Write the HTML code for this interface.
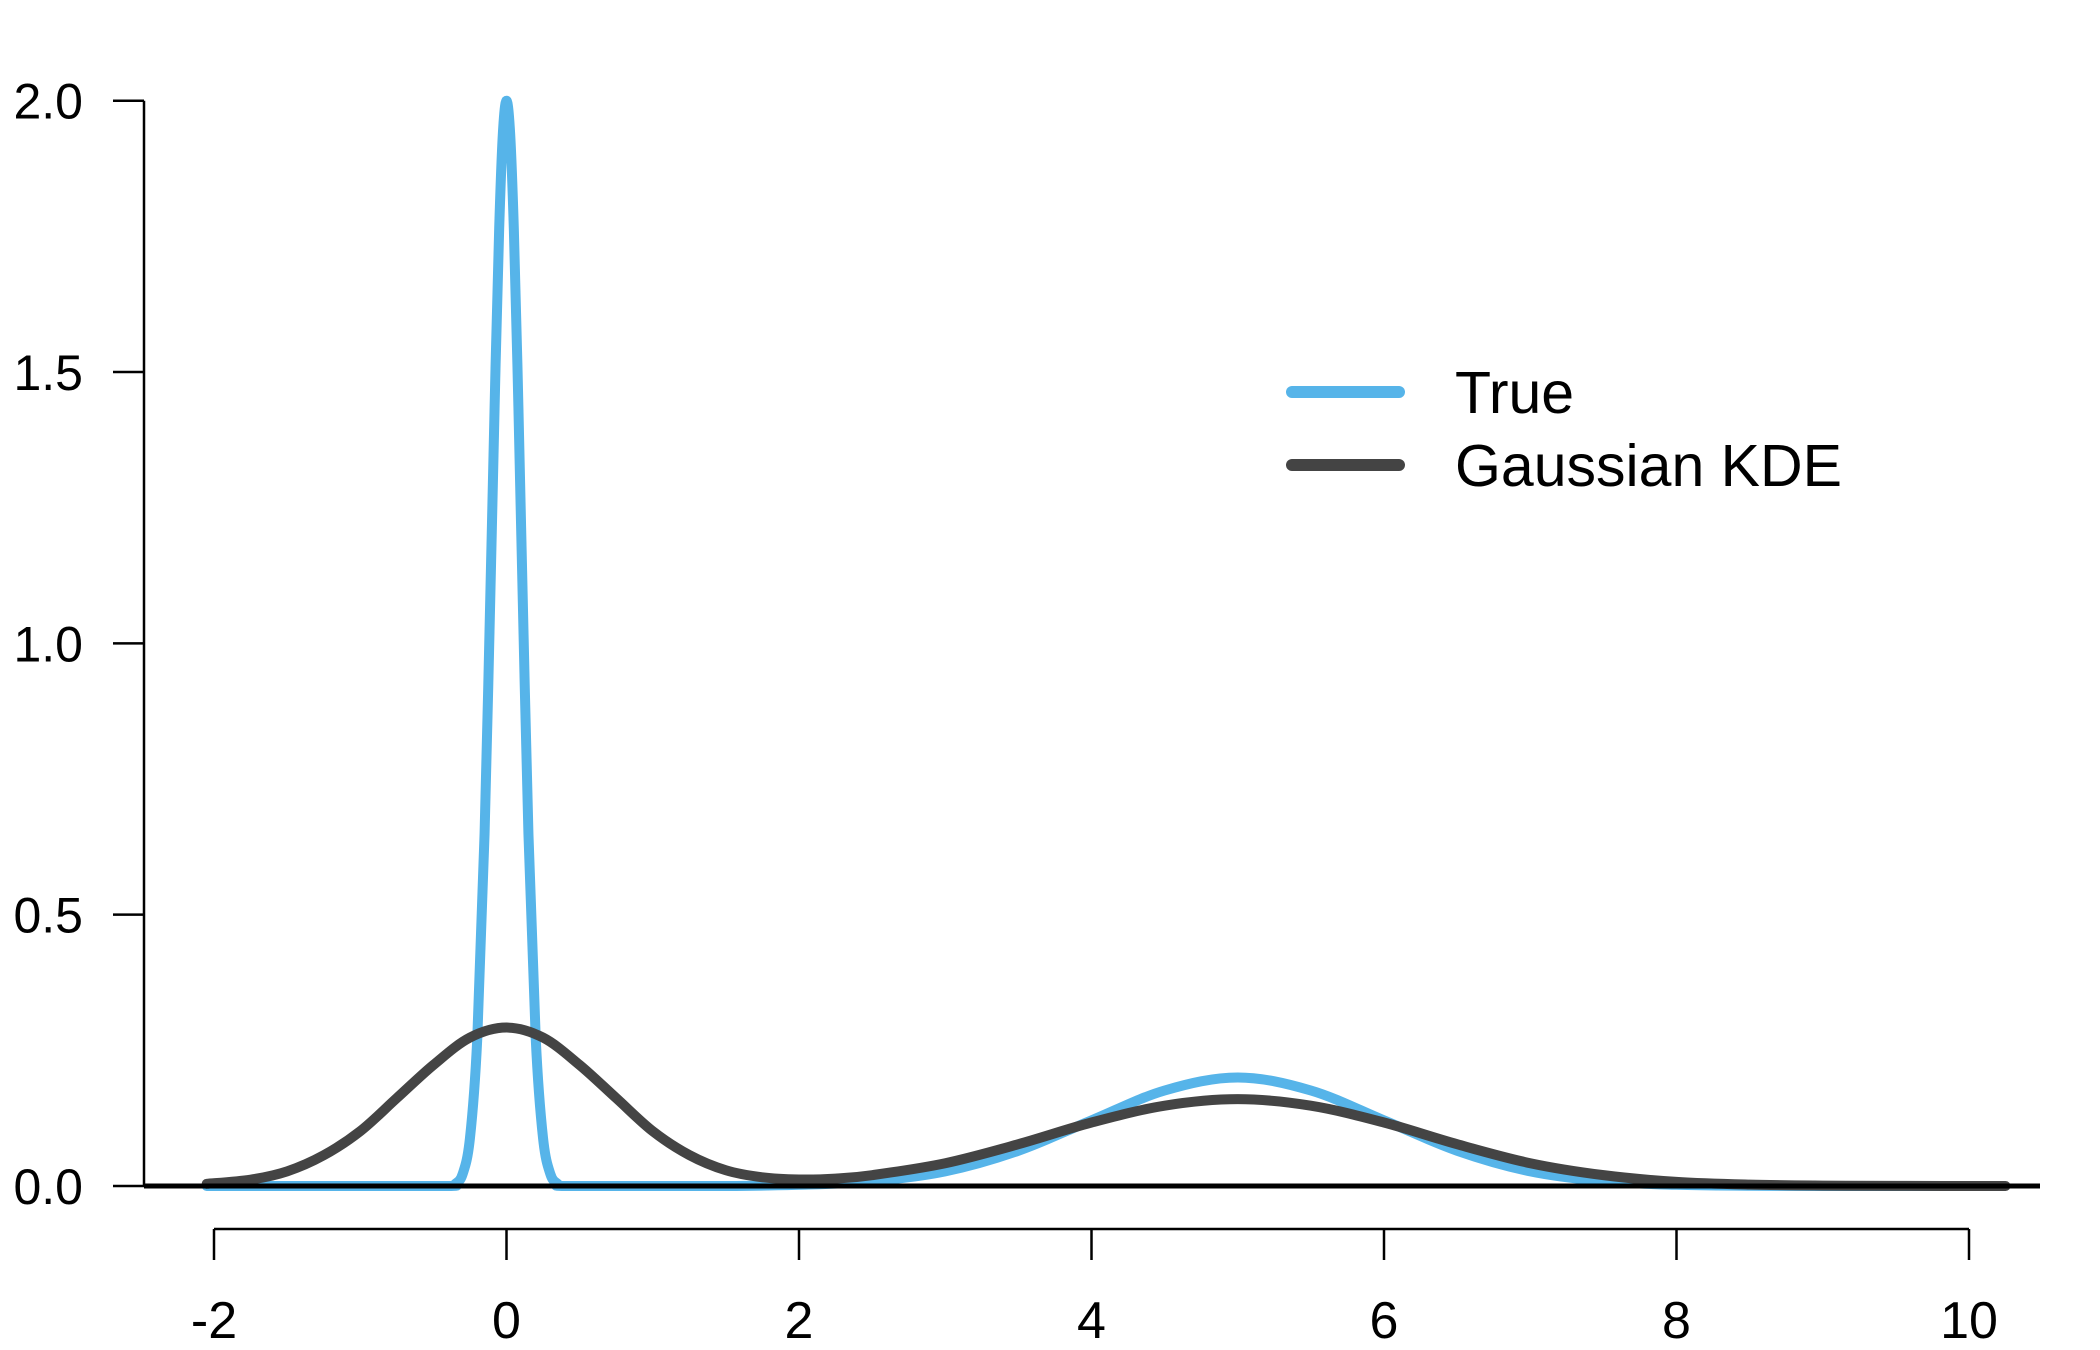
<!DOCTYPE html>
<html><head><meta charset="utf-8"><style>
html,body{margin:0;padding:0;background:#fff;}
svg{display:block;font-family:"Liberation Sans",Arial,sans-serif;}
</style></head><body>
<svg id="chart" width="2100" height="1350" viewBox="0 0 2100 1350">
<g id="axes"></g><g id="series"></g><g id="legend"></g>
</svg>
<script>
const xTicks=[-2,0,2,4,6,8,10];
const yTicks=[0,0.5,1,1.5,2];
const yTickLabels=["0.0","0.5","1.0","1.5","2.0"];
const trueX=[-2.05,-1,-0.4,-0.35,-0.3,-0.25,-0.2,-0.15,-0.1,-0.075,-0.05,-0.025,0,0.025,0.05,0.075,0.1,0.15,0.2,0.25,0.3,0.35,0.4,1,1.5,2,2.5,3,3.5,4,4.5,5,5.5,6,6.5,7,7.5,8,8.5,9,10.2];
const trueY=[0,0,0,0.004,0.022,0.088,0.271,0.649,1.213,1.509,1.765,1.939,2.0,1.939,1.765,1.509,1.213,0.649,0.271,0.088,0.022,0.004,0,0,0,0.0022,0.0088,0.027,0.065,0.121,0.176,0.2,0.176,0.121,0.065,0.027,0.0088,0.0022,0.0004,0,0];
const kdeX=[-2.05,-1.75,-1.5,-1.25,-1,-0.75,-0.5,-0.25,0,0.25,0.5,0.75,1,1.25,1.5,1.75,2,2.25,2.5,3,3.5,4,4.5,5,5.5,6,6.5,7,7.5,8,8.5,9,9.5,10.25];
const kdeY=[0.004,0.0117,0.027,0.0566,0.101,0.162,0.223,0.2735,0.292,0.2735,0.223,0.162,0.101,0.057,0.029,0.016,0.012,0.0136,0.020,0.042,0.077,0.117,0.148,0.16,0.148,0.117,0.077,0.042,0.020,0.0076,0.0025,0.0007,0.0002,0];
const NS="http://www.w3.org/2000/svg";
const X=v=>214+(v+2)*(1969-214)/12;
const Y=v=>1186-v*(1186-100.7)/2;
function mk(tag,attrs,parent){const e=document.createElementNS(NS,tag);for(const k in attrs)e.setAttribute(k,attrs[k]);parent.appendChild(e);return e;}
const axes=document.getElementById('axes');
let yl=mk('line',{x1:144,y1:Y(0),x2:144,y2:Y(2),stroke:'#000','stroke-width':2.5},axes);


yTicks.forEach((t,i)=>{
 let l=mk('line',{x1:113,y1:Y(t),x2:144,y2:Y(t),stroke:'#000','stroke-width':2.5},axes);
 
 
 let tx=mk('text',{x:83,y:Y(t)+18,'text-anchor':'end','font-size':50},axes);
 tx.textContent=yTickLabels[i];
 
 
});
let xl=mk('line',{x1:X(-2),y1:1229,x2:X(10),y2:1229,stroke:'#000','stroke-width':2.5},axes);


xTicks.forEach(t=>{
 let l=mk('line',{x1:X(t),y1:1229,x2:X(t),y2:1260,stroke:'#000','stroke-width':2.5},axes);
 
 
 let tx=mk('text',{x:X(t),y:1338,'text-anchor':'middle','font-size':52},axes);
 tx.textContent=String(t);
 
 
});
function path(xs,ys){
 const p=xs.map((x,i)=>[X(x),Y(ys[i])]);
 let d='M'+p[0][0]+','+p[0][1];
 for(let i=0;i<p.length-1;i++){
  const p0=p[Math.max(0,i-1)],p1=p[i],p2=p[i+1],p3=p[Math.min(p.length-1,i+2)];
  let c1y=p1[1]+(p2[1]-p0[1])/6,c2y=p2[1]-(p3[1]-p1[1])/6;
  c1y=Math.min(c1y,Y(0));c2y=Math.min(c2y,Y(0));
  d+=' C'+(p1[0]+(p2[0]-p0[0])/6)+','+c1y+' '+(p2[0]-(p3[0]-p1[0])/6)+','+c2y+' '+p2[0]+','+p2[1];
 }
 return d;
}
const series=document.getElementById('series');
let tp=mk('path',{d:path(trueX,trueY),fill:'none',stroke:'#56B4E9','stroke-width':10,'stroke-linejoin':'round','stroke-linecap':'round'},series);


let kp=mk('path',{d:path(kdeX,kdeY),fill:'none',stroke:'#444','stroke-width':10,'stroke-linejoin':'round','stroke-linecap':'round'},series);


let zl=mk('line',{x1:144,y1:Y(0),x2:2040,y2:Y(0),stroke:'#000','stroke-width':5},series);


const lg=document.getElementById('legend');
[['True','#56B4E9',392,'legend-entry-true'],['Gaussian KDE','#444',465,'legend-entry-kde']].forEach(e=>{
 let l=mk('line',{x1:1292,y1:e[2],x2:1399,y2:e[2],stroke:e[1],'stroke-width':12,'stroke-linecap':'round'},lg);
 
 
 let t=mk('text',{x:1455,y:e[2]+21,'font-size':59},lg);
 t.textContent=e[0];
 
 
});
</script>
</body></html>
